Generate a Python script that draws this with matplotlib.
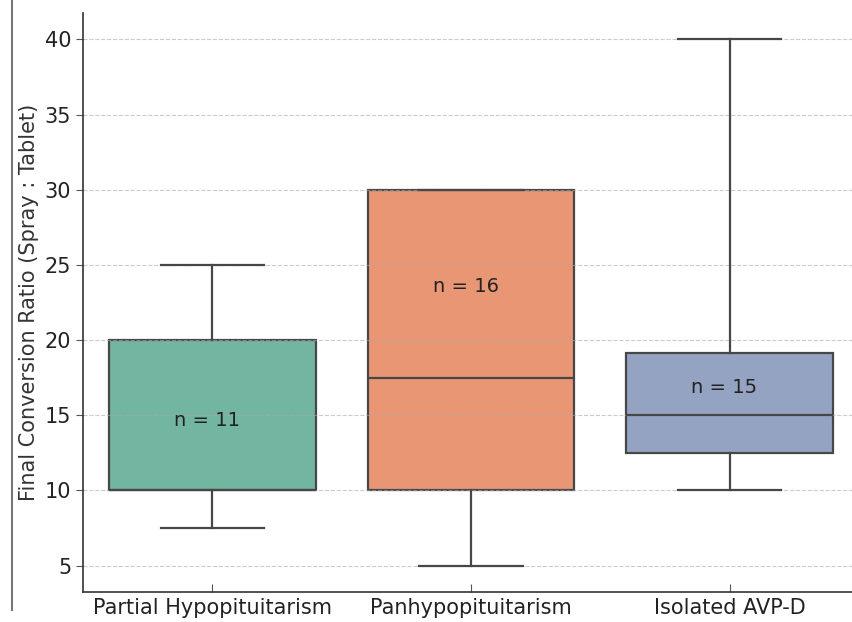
import matplotlib
matplotlib.use("Agg")
import matplotlib.pyplot as plt
from matplotlib.lines import Line2D
import seaborn as sns

grupos = ["Partial Hypopituitarism", "Panhypopituitarism", "Isolated AVP-D"]
q1 = [10, 10, 12.5]
mediana = [10, 17.5, 15]
q3 = [20, 30, 19.15]
bigode_min = [7.5, 5, 10]
bigode_max = [25, 30, 40]
n_pacientes = [11, 16, 15]
y_texto_n = [14.65, 23.55, 16.83]

cores = [sns.desaturate(c, 0.75) for c in sns.color_palette("Set2", 3)]
cinza = "#474747"

stats = []
for i in range(len(grupos)):
    stats.append({
        "label": grupos[i],
        "q1": q1[i], "med": mediana[i], "q3": q3[i],
        "whislo": bigode_min[i], "whishi": bigode_max[i],
        "fliers": [],
    })

fig = plt.figure(figsize=(8.53, 6.22), dpi=100)
ax = fig.add_axes([83 / 853, 30 / 622, 776 / 853, 579 / 622])

bp = ax.bxp(
    stats,
    positions=range(len(grupos)),
    widths=0.8,
    patch_artist=True,
    showfliers=False,
    boxprops={"edgecolor": cinza, "linewidth": 1.6},
    medianprops={"color": cinza, "linewidth": 1.6},
    whiskerprops={"color": cinza, "linewidth": 1.6},
    capprops={"color": cinza, "linewidth": 1.6},
    capwidths=0.4,
)
for caixa, cor in zip(bp["boxes"], cores):
    caixa.set_facecolor(cor)
    caixa.set_zorder(1)

for i, n in enumerate(n_pacientes):
    ax.text(i - 0.02, y_texto_n[i], f"n = {n}", ha="center", va="center",
            fontsize=14, color="#222222", zorder=5)

ax.set_xlim(-0.5, 2.5)
ax.set_ylim(3.25, 41.75)
ax.set_yticks([5, 10, 15, 20, 25, 30, 35, 40])
ax.set_ylabel("Final Conversion Ratio (Spray : Tablet)", fontsize=15, color="#333333")
ax.tick_params(labelsize=15, colors="#555555", labelcolor="#222222", length=5)
ax.tick_params(axis="x", direction="in", length=6, pad=4)

ax.grid(axis="y", linestyle="--", color="#aaaaaa", alpha=0.6, linewidth=0.8)
ax.set_axisbelow("line")
for lado in ["top", "right"]:
    ax.spines[lado].set_visible(False)
for lado in ["left", "bottom"]:
    ax.spines[lado].set_color("#333333")
    ax.spines[lado].set_linewidth(1.2)

# borda da captura de tela
fig.add_artist(Line2D([12 / 853, 12 / 853], [12 / 622, 1], color="#777777", linewidth=1.5))

fig.savefig("out.png", dpi=100)
